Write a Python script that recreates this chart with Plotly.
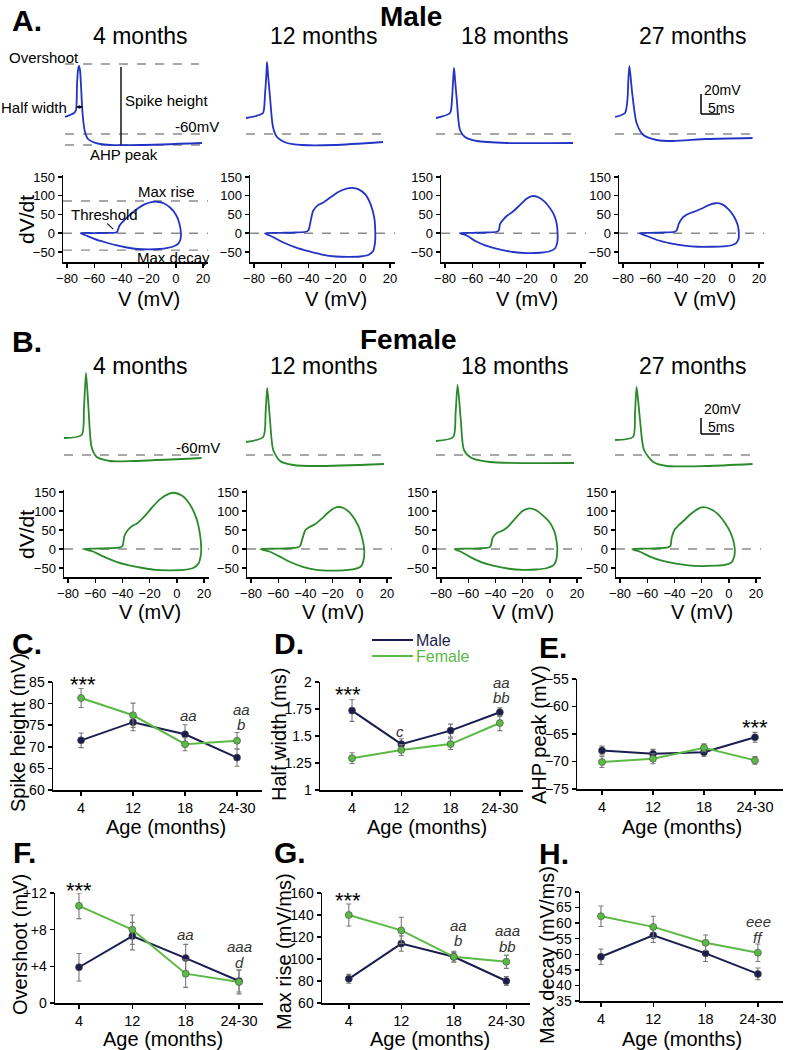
import plotly.graph_objects as go

W, H = 789, 1050
FONT = "Arial, 'Liberation Sans', sans-serif"

# ------------------------------------------------------------------ data
month_titles = ['4 months', '12 months', '18 months', '27 months']
ages = ['4', '12', '18', '24-30']
age_pos = [0, 1, 2, 3]

# Voltage traces: time (ms) and membrane potential (mV)
male_4mo_t = [0, 2.25, 2.75, 3.0, 3.25, 3.5, 3.75, 4.0, 4.25, 4.6, 5.0, 5.75, 7.0, 8.75, 11.25, 18.75, 34.25]
male_4mo_v = [-43, -39, -36, -11, 4, 8, 4, -11, -31, -48, -58, -65, -68, -70, -71, -71, -69]
male_12mo_t = [0, 2.5, 4.25, 4.75, 5.1, 5.25, 5.5, 6.0, 6.75, 7.75, 10.25, 14, 22, 34.25]
male_12mo_v = [-44, -42, -39, -20, 0, 12, 0, -23, -53, -63, -69, -71, -71, -68]
male_18mo_t = [0, 3.5, 4.0, 4.3, 4.5, 4.75, 5.2, 6.0, 7.25, 10.2, 17.7, 34.25]
male_18mo_v = [-44, -39, -25, -5, 6, -5, -26, -56, -63, -67, -69, -69]
male_27mo_t = [0, 2.5, 3.1, 3.35, 3.6, 4.3, 5.4, 7.1, 10.4, 14.5, 22.9, 34.4]
male_27mo_v = [-43, -39, -26, -5, 8, -19, -49, -61, -66, -67, -65, -64]

female_4mo_t = [0, 4.4, 5.0, 5.5, 6.1, 6.9, 8.2, 11.5, 17.3, 34.4]
female_4mo_v = [-43, -40, -12, 22, -12, -52, -62, -66, -66, -63]
female_12mo_t = [0, 4.3, 4.9, 5.3, 6.0, 6.8, 8.5, 11.8, 17.7, 34.5]
female_12mo_v = [-47, -42, -18, 7, -25, -55, -66, -70, -71, -69]
female_18mo_t = [0, 4.3, 4.9, 5.4, 6.2, 7.0, 8.9, 13.5, 34.5]
female_18mo_v = [-46, -42, -18, 10, -25, -55, -63, -67, -68]
female_27mo_t = [0, 4.5, 5.0, 5.4, 6.25, 7.25, 9.6, 12.9, 22.9, 34.4]
female_27mo_v = [-45, -42, -18, 8, -25, -55, -67, -71, -71, -69]

# Phase plots: V (mV) vs dV/dt (mV/ms)
male_4mo_pv = [-70, -60, -50, -44, -43, -41.5, -40, -37, -33, -28, -23, -18, -14, -9, -4, 0, 2.5, 3.8, 3.5, 2, -1, -6, -12, -20, -28, -36, -44, -52, -60, -66, -70]
male_4mo_pd = [0, 0.5, 1, 2, 5, 20, 27, 38, 52, 66, 77, 83, 84, 80, 68, 50, 28, 0, -15, -27, -34, -39, -42, -43, -42, -38, -32, -24, -15, -6, 0]
male_12mo_pv = [-72, -60, -50, -42, -40, -38.5, -36.5, -33, -29, -24, -18, -12, -8, -3, 2, 6, 8.5, 9.2, 9, 7.5, 4, -2, -10, -20, -30, -40, -50, -60, -66, -72]
male_12mo_pd = [0, 1, 2, 4, 8, 30, 60, 75, 82, 95, 110, 119, 121, 117, 103, 75, 40, 0, -25, -48, -58, -62, -63, -62, -57, -48, -37, -22, -10, 0]
male_18mo_pv = [-69, -60, -50, -42, -40.5, -39.5, -37, -34, -30, -25, -20, -16, -12, -7, -3, 0, 2, 2.8, 2.5, 1, -3, -10, -20, -30, -40, -50, -58, -64, -69]
male_18mo_pd = [0, 1, 2, 4, 8, 25, 37, 48, 58, 75, 92, 99, 97, 85, 68, 50, 28, 0, -25, -40, -48, -52, -53, -50, -43, -33, -20, -6, 0]
male_27mo_pv = [-68, -60, -50, -42, -40.5, -39, -36, -33, -28, -22, -17, -12, -7, -2, 2, 4.5, 5.2, 5, 3, 0, -6, -15, -25, -35, -45, -55, -62, -68]
male_27mo_pd = [0, 1, 2, 4, 8, 25, 42, 50, 57, 66, 75, 80, 77, 62, 42, 20, 0, -15, -27, -32, -35, -36, -36, -33, -27, -18, -8, 0]

female_4mo_pv = [-68, -60, -50, -42, -40, -38.5, -36, -33, -29, -24, -18, -12, -6, -2, 4, 10, 14.5, 17, 18, 17.5, 16, 12, 5, -5, -15, -25, -35, -45, -55, -62, -68]
female_4mo_pd = [0, 1, 2, 4, 8, 35, 50, 60, 68, 85, 110, 132, 145, 148, 140, 115, 80, 40, 0, -20, -38, -50, -55, -56, -55, -50, -43, -33, -18, -6, 0]
female_12mo_pv = [-73, -62, -52, -46, -44, -42, -40, -37, -33, -28, -22, -17, -12, -6, -1, 2, 3.2, 3, 1, -4, -12, -22, -32, -42, -52, -60, -67, -73]
female_12mo_pd = [0, 1, 2, 4, 8, 30, 50, 58, 65, 80, 100, 110, 108, 90, 60, 25, 0, -25, -45, -53, -56, -57, -55, -47, -33, -18, -6, 0]
female_18mo_pv = [-70, -60, -50, -45, -43.5, -42, -39, -35, -31, -26, -20, -15, -10, -5, 0, 3.5, 5, 5.5, 5, 3, -2, -10, -20, -30, -40, -50, -58, -65, -70]
female_18mo_pd = [0, 1, 2, 4, 8, 30, 42, 48, 58, 78, 100, 107, 102, 88, 70, 45, 20, 0, -25, -42, -50, -54, -55, -52, -45, -35, -22, -8, 0]
female_27mo_pv = [-71, -60, -52, -45, -43, -42, -40, -37, -33, -28, -23, -19, -14, -8, -3, 1, 3.5, 4.4, 4, 2, -3, -10, -20, -30, -40, -50, -58, -65, -71]
female_27mo_pd = [0, 1, 2, 4, 8, 30, 50, 62, 75, 92, 105, 110, 106, 92, 70, 45, 20, 0, -20, -35, -42, -44, -45, -43, -38, -30, -20, -8, 0]

# Summary statistics (mean, SEM) per age group
spike_height_male = [71.5, 75.7, 72.9, 67.5]
spike_height_male_err = [1.7, 2.0, 2.2, 2.0]
spike_height_female = [81.3, 77.3, 70.6, 71.4]
spike_height_female_err = [2.2, 2.8, 1.5, 1.9]
half_width_male = [1.735, 1.425, 1.55, 1.72]
half_width_male_err = [0.10, 0.05, 0.06, 0.04]
half_width_female = [1.295, 1.37, 1.425, 1.62]
half_width_female_err = [0.05, 0.05, 0.05, 0.07]
ahp_male = [-68.0, -68.6, -68.3, -65.6]
ahp_male_err = [0.8, 0.8, 0.8, 0.9]
ahp_female = [-70.1, -69.5, -67.5, -69.8]
ahp_female_err = [1.0, 0.9, 0.7, 0.7]
overshoot_male = [3.9, 7.3, 4.9, 2.4]
overshoot_male_err = [1.5, 1.5, 1.5, 1.2]
overshoot_female = [10.6, 8.0, 3.2, 2.3]
overshoot_female_err = [1.4, 1.6, 1.5, 1.3]
max_rise_male = [82, 114, 102, 80]
max_rise_male_err = [4, 7, 5, 4]
max_rise_female = [140, 126, 102, 97.5]
max_rise_female_err = [10, 12, 4, 6]
max_decay_male = [49.2, 56.1, 50.3, 43.7]
max_decay_male_err = [2.5, 2.3, 2.6, 1.9]
max_decay_female = [62.2, 58.8, 53.7, 50.5]
max_decay_female_err = [3.3, 3.4, 2.5, 2.8]

# ------------------------------------------------------------------ style
BLUE = '#2334c4'
DGREEN = '#2a8a2a'
NAVY = '#1b1d4e'
LGREEN = '#5cb946'
DASH = dict(color='#8a8a8a', width=1.3, dash='dash')


def px_x(a, b):
    return [a / W, b / W]


def px_y(top, bot):
    return [1 - bot / H, 1 - top / H]


fig = go.Figure()
layout = {}
shapes = []
annotations = []
counter = [0]


def new_axes(xdom, ydom, xkw, ykw):
    counter[0] += 1
    n = counter[0]
    sx = '' if n == 1 else str(n)
    layout['xaxis' + sx] = dict(domain=xdom, anchor='y' + sx, fixedrange=True, automargin=False, **xkw)
    layout['yaxis' + sx] = dict(domain=ydom, anchor='x' + sx, fixedrange=True, automargin=False, **ykw)
    return 'x' + sx, 'y' + sx


def axis_style(size=13, **kw):
    d = dict(showline=True, linecolor='black', linewidth=1.5, ticks='outside', ticklen=4,
             tickwidth=1.5, tickcolor='black', showgrid=False, zeroline=False,
             tickfont=dict(size=size, color='black', family=FONT))
    d.update(kw)
    return d


def ann(text, x, y, size=15, bold=False, italic=False, color='black',
        xanchor='center', yanchor='middle', angle=0):
    if bold:
        text = '<b>' + text + '</b>'
    if italic:
        text = '<i>' + text + '</i>'
    annotations.append(dict(text=text, x=x / W, y=1 - y / H, xref='paper', yref='paper',
                            showarrow=False, font=dict(size=size, color=color, family=FONT),
                            xanchor=xanchor, yanchor=yanchor, textangle=angle, borderpad=0))


def pline(x0, y0, x1, y1, color='black', width=1.5):
    shapes.append(dict(type='line', xref='paper', yref='paper', x0=x0 / W, x1=x1 / W,
                       y0=1 - y0 / H, y1=1 - y1 / H, line=dict(color=color, width=width)))


# ------------------------------------------------------------------ voltage traces
male_traces = [(male_4mo_t, male_4mo_v), (male_12mo_t, male_12mo_v),
               (male_18mo_t, male_18mo_v), (male_27mo_t, male_27mo_v)]
female_traces = [(female_4mo_t, female_4mo_v), (female_12mo_t, female_12mo_v),
                 (female_18mo_t, female_18mo_v), (female_27mo_t, female_27mo_v)]

trace_axes = []
for traces, x0s, ytop, ybot, vrange, color in [
        (male_traces, [65, 246, 436, 615], 50, 155, [-81, 24], BLUE),
        (female_traces, [64, 246, 436, 615], 370, 475, [-80, 25], DGREEN)]:
    for i, (t, v) in enumerate(traces):
        xa, ya = new_axes(px_x(x0s[i], x0s[i] + 140), px_y(ytop, ybot),
                          dict(visible=False, range=[0, 35]),
                          dict(visible=False, range=vrange))
        trace_axes.append((xa, ya))
        shapes.append(dict(type='line', xref=xa, yref=ya, x0=0, x1=34.3, y0=-60, y1=-60,
                           line=DASH, layer='below'))
        fig.add_trace(go.Scatter(x=t, y=v, mode='lines', xaxis=xa, yaxis=ya,
                                 line=dict(color=color, width=1.8, shape='spline', smoothing=0.7),
                                 showlegend=False, hoverinfo='skip'))

# extra guides in male 4 months panel
xa, ya = trace_axes[0]
shapes.append(dict(type='line', xref=xa, yref=ya, x0=0, x1=33.5, y0=10, y1=10, line=DASH, layer='below'))
shapes.append(dict(type='line', xref=xa, yref=ya, x0=0, x1=33.8, y0=-71, y1=-71, line=DASH, layer='below'))
shapes.append(dict(type='line', xref=xa, yref=ya, x0=14, x1=14, y0=7, y1=-71,
                   line=dict(color='#222', width=1.6)))
annotations.append(dict(x=4.5, y=-33, ax=2.4, ay=-33, xref=xa, yref=ya, axref=xa, ayref=ya,
                        text='', showarrow=True, arrowhead=2, startarrowhead=2, arrowside='end+start',
                        arrowsize=0.6, arrowwidth=1.2, arrowcolor='black'))

# ------------------------------------------------------------------ phase plots
male_phase = [(male_4mo_pv, male_4mo_pd), (male_12mo_pv, male_12mo_pd),
              (male_18mo_pv, male_18mo_pd), (male_27mo_pv, male_27mo_pd)]
female_phase = [(female_4mo_pv, female_4mo_pd), (female_12mo_pv, female_12mo_pd),
                (female_18mo_pv, female_18mo_pd), (female_27mo_pv, female_27mo_pd)]
phase_axes = []
for loops, axx, ytop, ybot, yr, color in [
        (male_phase, [63, 250, 441, 619], 175, 262, [-76.7, 155.3], BLUE),
        (female_phase, [64, 247, 437, 616], 490, 577, [-73.7, 155.3], DGREEN)]:
    for i, (pv, pd) in enumerate(loops):
        xa, ya = new_axes(px_x(axx[i], axx[i] + 145), px_y(ytop, ybot),
                          axis_style(range=[-83, 23.7], tickvals=[-80, -60, -40, -20, 0, 20]),
                          axis_style(range=yr, tickvals=[-50, 0, 50, 100, 150]))
        phase_axes.append((xa, ya))
        shapes.append(dict(type='line', xref=xa, yref=ya, x0=-83, x1=27, y0=0, y1=0,
                           line=DASH, layer='below'))
        fig.add_trace(go.Scatter(x=pv, y=pd, mode='lines', xaxis=xa, yaxis=ya,
                                 line=dict(color=color, width=1.8, shape='spline', smoothing=0.8),
                                 showlegend=False, hoverinfo='skip', cliponaxis=False))

xa, ya = phase_axes[0]
shapes.append(dict(type='line', xref=xa, yref=ya, x0=-83, x1=27, y0=86, y1=86, line=DASH, layer='below'))
shapes.append(dict(type='line', xref=xa, yref=ya, x0=-83, x1=27, y0=-45, y1=-45, line=DASH, layer='below'))
shapes.append(dict(type='line', xref=xa, yref=ya, x0=-50.5, x1=-46, y0=26, y1=11,
                   line=dict(color='#222', width=1.2)))

# ------------------------------------------------------------------ summary panels
summary = [
    (px_x(53, 262), px_y(682, 790), [-0.54, 3.48], [60, 85], [60, 65, 70, 75, 80, 85], None,
     spike_height_male, spike_height_male_err, spike_height_female, spike_height_female_err),
    (px_x(320, 523), px_y(682, 790), [-0.65, 3.47], [1, 2], [1, 1.25, 1.5, 1.75, 2],
     ['1', '1.25', '1.5', '1.75', '2'],
     half_width_male, half_width_male_err, half_width_female, half_width_female_err),
    (px_x(577, 783), px_y(679, 789), [-0.49, 3.55], [-75, -55], [-75, -70, -65, -60, -55], None,
     ahp_male, ahp_male_err, ahp_female, ahp_female_err),
    (px_x(55, 263), px_y(893, 1003), [-0.45, 3.45], [0, 12], [0, 4, 8, 12], ['0', '+4', '+8', '+12'],
     overshoot_male, overshoot_male_err, overshoot_female, overshoot_female_err),
    (px_x(322, 530), px_y(893, 1003), [-0.51, 3.45], [60, 160], [60, 80, 100, 120, 140, 160], None,
     max_rise_male, max_rise_male_err, max_rise_female, max_rise_female_err),
    (px_x(580, 783), px_y(892, 1001), [-0.4, 3.48], [35, 70], [35, 40, 45, 50, 55, 60, 65, 70], None,
     max_decay_male, max_decay_male_err, max_decay_female, max_decay_female_err),
]
for (xd, yd, xr, yr, tv, tt, m, me, f, fe) in summary:
    ykw = axis_style(size=14, range=yr, tickvals=tv)
    if tt is not None:
        ykw['ticktext'] = tt
    xa, ya = new_axes(xd, yd,
                      axis_style(size=14.5, range=xr, tickvals=age_pos, ticktext=ages),
                      ykw)
    for vals, errs, col in [(m, me, NAVY), (f, fe, LGREEN)]:
        fig.add_trace(go.Scatter(x=age_pos, y=vals, mode='lines+markers', xaxis=xa, yaxis=ya,
                                 error_y=dict(type='data', array=errs, color='#7a7a7a',
                                              thickness=1.1, width=2.5),
                                 line=dict(color=col, width=2),
                                 marker=dict(size=7, color=col, line=dict(color='#444', width=0.6)),
                                 showlegend=False, hoverinfo='skip', cliponaxis=False))

# ------------------------------------------------------------------ text
ann('A.', 27, 20, size=30, bold=True)
ann('Male', 411, 16, size=28, bold=True)
ann('B.', 27, 341, size=30, bold=True)
ann('Female', 408, 340, size=28, bold=True)
for x, txt in zip([140, 323, 514, 692], month_titles):
    ann(txt, x, 36, size=23)
    ann(txt, x, 366, size=23)

ann('Overshoot', 8, 58, xanchor='left')
ann('Half width', 0, 107, xanchor='left')
ann('Spike height', 124, 101, xanchor='left')
ann('-60mV', 197, 127)
ann('AHP peak', 124, 154)
ann('-60mV', 198, 447)

# scale bars
for (ytxt1, ytop, ybot, ytxt2) in [(90, 94, 114, 108), (409, 418, 434, 427)]:
    pline(701, ytop, 701, ybot, width=1.5)
    pline(701, ybot, 720, ybot, width=1.5)
    ann('20mV', 703, ytxt1, size=14, xanchor='left')
    ann('5ms', 707, ytxt2, size=14, xanchor='left')

ann('Max rise', 166, 192)
ann('Threshold', 104, 215)
ann('Max decay', 173, 257)
ann('dV/dt', 26, 220, size=21, angle=-90)
ann('dV/dt', 26, 535, size=21, angle=-90)
for ax0 in [63, 250, 441, 619]:
    ann('V (mV)', ax0 + 86, 299, size=20)
for ax0 in [64, 247, 437, 616]:
    ann('V (mV)', ax0 + 86, 612, size=20)

# panel letters
ann('C.', 27, 643, size=30, bold=True)
ann('D.', 289, 643, size=30, bold=True)
ann('E.', 553, 647, size=30, bold=True)
ann('F.', 24, 852, size=30, bold=True)
ann('G.', 290, 852, size=30, bold=True)
ann('H.', 554, 853, size=30, bold=True)

# legend
pline(372, 640, 413, 640, color=NAVY, width=2)
pline(372, 656, 413, 656, color=LGREEN, width=2)
ann('Male', 415, 640, size=16, color=NAVY, xanchor='left')
ann('Female', 415, 656, size=16, color=LGREEN, xanchor='left')

# axis titles
ann('Spike height (mV)', 18, 733, size=20, angle=-90)
ann('Half width (ms)', 279, 735, size=20, angle=-90)
ann('AHP peak (mV)', 539, 735, size=20, angle=-90)
ann('Overshoot (mV)', 20, 945, size=20, angle=-90)
ann('Max rise (mV/ms)', 284, 952, size=20, angle=-90)
ann('Max decay (mV/ms)', 547, 955, size=20, angle=-90)
for x, y in [(166, 827), (427, 827), (682, 827), (163, 1039), (430, 1039), (682, 1039)]:
    ann('Age (months)', x, y, size=20)

# statistics
for x, y in [(83, 684), (348, 694), (755, 727), (79, 890), (348, 900)]:
    ann('***', x, y, size=22)
IT = '#333333'
for txt, x, y in [('aa', 188, 715), ('aa', 241, 709), ('b', 241, 724),
                  ('c', 400, 731), ('aa', 501, 682), ('bb', 501, 697),
                  ('aa', 185, 935), ('aaa', 239, 946), ('d', 239, 962),
                  ('aa', 458, 925), ('b', 458, 940), ('aaa', 507, 930), ('bb', 507, 946),
                  ('eee', 758, 922), ('ff', 758, 937)]:
    ann(txt, x, y, size=15, italic=True, color=IT)

layout.update(dict(width=W, height=H, autosize=False,
                   margin=dict(l=0, r=0, t=0, b=0, pad=0, autoexpand=False),
                   paper_bgcolor='white', plot_bgcolor='white', showlegend=False,
                   font=dict(family=FONT, color='black'),
                   shapes=shapes, annotations=annotations))
fig.update_layout(**layout)
fig.write_html('out.html', config={'displayModeBar': False, 'staticPlot': True},
               post_script="document.body.style.margin='0';document.body.style.padding='0';"
                           "document.documentElement.style.overflow='hidden';")
